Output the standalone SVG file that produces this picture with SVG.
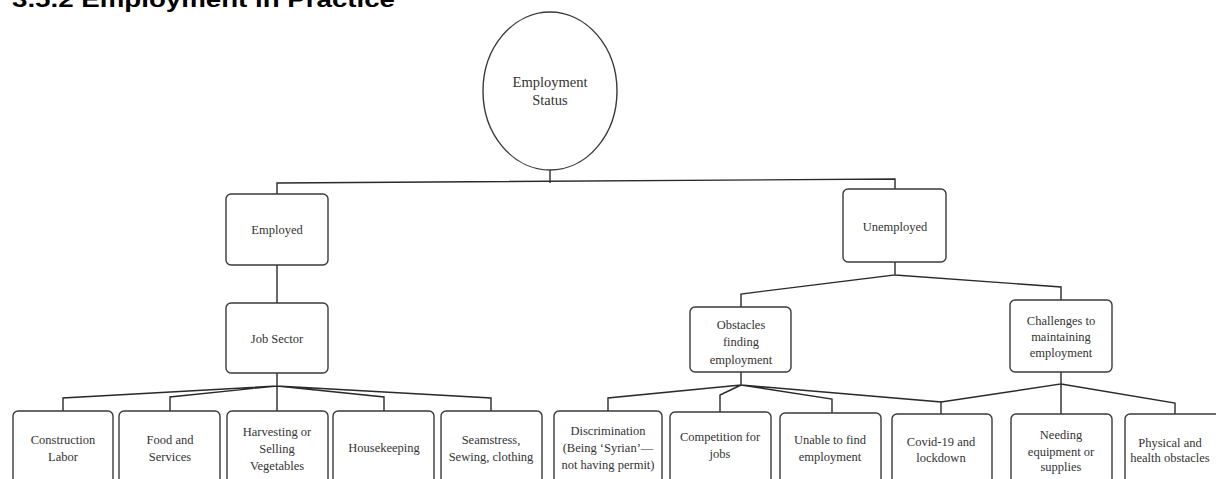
<svg xmlns="http://www.w3.org/2000/svg" width="1216" height="479" viewBox="0 0 1216 479">
<style>
.box{fill:#fff;stroke:#3a3a3a;stroke-width:1.4}
.t{font-family:"Liberation Serif","Times New Roman",serif;font-size:12.5px;fill:#333;text-anchor:middle}
.big{font-size:14.5px}
.c{fill:none;stroke:#2a2a2a;stroke-width:1.4}
</style>
<rect width="1216" height="479" fill="#fff"/>
<text x="12" y="7" font-family="'Liberation Sans',Arial,sans-serif" font-weight="bold" font-size="22" textLength="383" lengthAdjust="spacingAndGlyphs" fill="#000">3.5.2 Employment in Practice</text>
<g id="connectors" class="c">
<path d="M550,170 V183"/>
<path d="M277,194 V183 L895,179 V190"/>
<path d="M277,265 V303"/>
<path d="M277,373 V386 M277,386 L63,398 V411 M277,386 L170,397 V411 M277,386 V411 M277,386 L384,397 V411 M277,386 L491,398 V411"/>
<path d="M895,262 V275 L741,294 V307 M895,275 L1061,287 V300"/>
<path d="M741,372 V385 M741,385 L608,398 V411 M741,385 L720,395 V412 M741,385 L832,399 V413 M741,385 L941,402 V414"/>
<path d="M1061,372 V384 L941,402 M1061,384 V414 M1061,384 L1175,403 V414"/>
</g>
<g id="n-status"><ellipse class="box" cx="550" cy="91" rx="67" ry="79"/><text class="t big" x="550" y="87">Employment</text><text class="t big" x="550" y="105">Status</text></g>
<g id="n-employed"><rect class="box" x="226" y="194" width="102" height="71" rx="5"/><text class="t" x="277" y="234">Employed</text></g>
<g id="n-unemployed"><rect class="box" x="843" y="189" width="103" height="73" rx="5"/><text class="t" x="895" y="231">Unemployed</text></g>
<g id="n-jobsector"><rect class="box" x="226" y="303" width="102" height="70" rx="5"/><text class="t" x="277" y="343">Job Sector</text></g>
<g id="n-obstacles"><rect class="box" x="690" y="307" width="101" height="65" rx="5"/><text class="t" x="741" y="329">Obstacles</text><text class="t" x="741" y="346">finding</text><text class="t" x="741" y="364">employment</text></g>
<g id="n-challenges"><rect class="box" x="1010" y="300" width="102" height="72" rx="5"/><text class="t" x="1061" y="325">Challenges to</text><text class="t" x="1061" y="341">maintaining</text><text class="t" x="1061" y="357">employment</text></g>
<g id="n-construction"><rect class="box" x="13" y="411" width="100" height="90" rx="5"/><text class="t" x="63" y="444">Construction</text><text class="t" x="63" y="461">Labor</text></g>
<g id="n-food"><rect class="box" x="119" y="411" width="101" height="90" rx="5"/><text class="t" x="170" y="444">Food and</text><text class="t" x="170" y="461">Services</text></g>
<g id="n-harvesting"><rect class="box" x="227" y="411" width="101" height="90" rx="5"/><text class="t" x="277" y="436">Harvesting or</text><text class="t" x="277" y="453">Selling</text><text class="t" x="277" y="470">Vegetables</text></g>
<g id="n-housekeeping"><rect class="box" x="333" y="411" width="101" height="90" rx="5"/><text class="t" x="384" y="452">Housekeeping</text></g>
<g id="n-seamstress"><rect class="box" x="441" y="411" width="101" height="90" rx="5"/><text class="t" x="491" y="444">Seamstress,</text><text class="t" x="491" y="461">Sewing, clothing</text></g>
<g id="n-discrimination"><rect class="box" x="554" y="411" width="108" height="90" rx="5"/><text class="t" x="608" y="435">Discrimination</text><text class="t" x="608" y="452">(Being ‘Syrian’—</text><text class="t" x="608" y="469">not having permit)</text></g>
<g id="n-competition"><rect class="box" x="670" y="412" width="101" height="90" rx="5"/><text class="t" x="720" y="441">Competition for</text><text class="t" x="720" y="458">jobs</text></g>
<g id="n-unable"><rect class="box" x="780" y="413" width="101" height="90" rx="5"/><text class="t" x="830" y="444">Unable to find</text><text class="t" x="830" y="461">employment</text></g>
<g id="n-covid"><rect class="box" x="892" y="414" width="100" height="90" rx="5"/><text class="t" x="941" y="446">Covid-19 and</text><text class="t" x="941" y="462">lockdown</text></g>
<g id="n-needing"><rect class="box" x="1011" y="414" width="101" height="90" rx="5"/><text class="t" x="1061" y="439">Needing</text><text class="t" x="1061" y="456">equipment or</text><text class="t" x="1061" y="471">supplies</text></g>
<g id="n-physical"><rect class="box" x="1125" y="414" width="100" height="90" rx="5"/><text class="t" x="1170" y="447">Physical and</text><text class="t" x="1170" y="462">health obstacles</text></g>
</svg>
